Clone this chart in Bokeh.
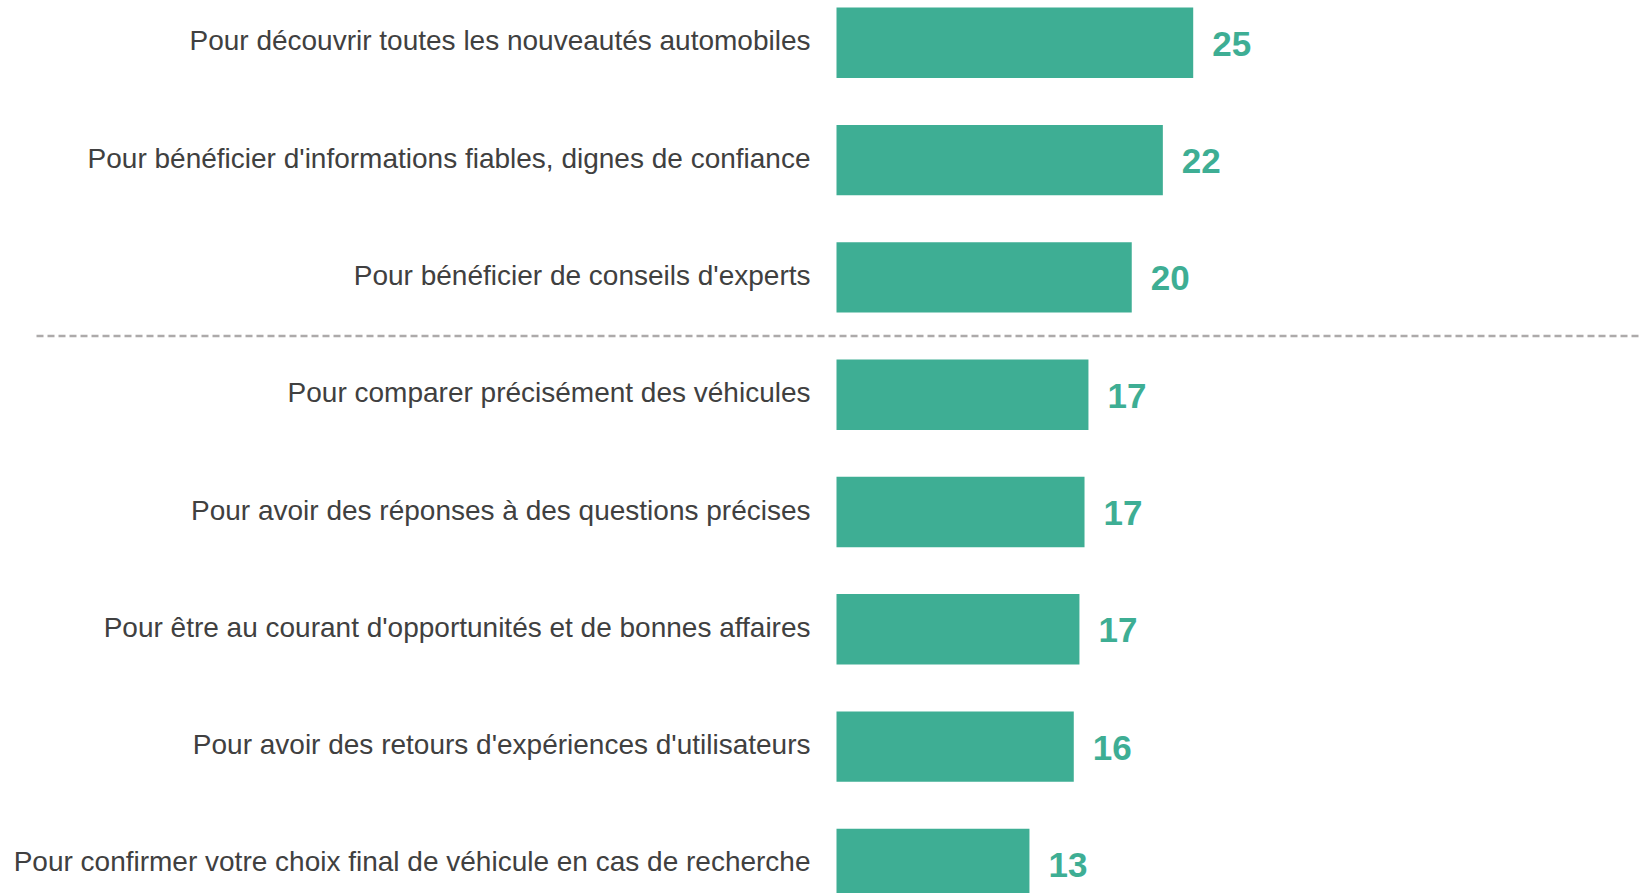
from bokeh.plotting import figure
from bokeh.models import Range1d, ColumnDataSource
from bokeh.core.properties import value
from bokeh.embed import file_html
from bokeh.resources import INLINE

categories = [
    "Pour découvrir toutes les nouveautés automobiles",
    "Pour bénéficier d'informations fiables, dignes de confiance",
    "Pour bénéficier de conseils d'experts",
    "Pour comparer précisément des véhicules",
    "Pour avoir des réponses à des questions précises",
    "Pour être au courant d'opportunités et de bonnes affaires",
    "Pour avoir des retours d'expériences d'utilisateurs",
    "Pour confirmer votre choix final de véhicule en cas de recherche",
]
values = [24.55, 22.46, 20.32, 17.34, 17.07, 16.72, 16.33, 13.28]
value_labels = ["25", "22", "20", "17", "17", "17", "16", "13"]
separator_after = 3  # dashed line between group of top 3 and the rest

BAR = "#3EAE94"
TXT = "#404040"

W, H = 1639, 893
px_per_unit = 14.53
x_start = -836 / px_per_unit
x_end = x_start + W / px_per_unit
row_px = 117.3
y_top = -42.3 / row_px
y_bottom = y_top + H / row_px

pos = list(range(len(categories)))
src = ColumnDataSource(dict(y=pos, v=values, cat=categories, lab=value_labels,
                            zero=[0] * len(pos)))

p = figure(width=W, height=H, output_backend="svg", toolbar_location=None,
           x_range=Range1d(x_start, x_end), y_range=Range1d(y_bottom, y_top),
           min_border=0, min_border_left=0, min_border_right=0,
           min_border_top=0, min_border_bottom=0)
p.axis.visible = False
p.grid.visible = False
p.outline_line_color = None
p.background_fill_color = "white"
p.border_fill_color = "white"

p.hbar(y="y", right="v", left=0, height=0.6, source=src,
       fill_color=BAR, line_color=None)

p.text(x="zero", y="y", text="cat", source=src, x_offset=-26, y_offset=-2,
       text_align="right", text_baseline="middle",
       text_font=value("Liberation Sans"), text_font_size="28px",
       text_color=TXT)

p.text(x="v", y="y", text="lab", source=src, x_offset=19, y_offset=1,
       text_align="left", text_baseline="middle",
       text_font=value("Liberation Sans"), text_font_style="bold",
       text_font_size="35px", text_color=BAR)

sep_y = separator_after - 0.5
p.segment(x0=[x_start + 36 / px_per_unit], x1=[x_end], y0=[sep_y], y1=[sep_y],
          line_color="#adaaaa", line_width=2.5, line_dash="7 4")

open("out.html", "w").write(file_html(p, INLINE))
